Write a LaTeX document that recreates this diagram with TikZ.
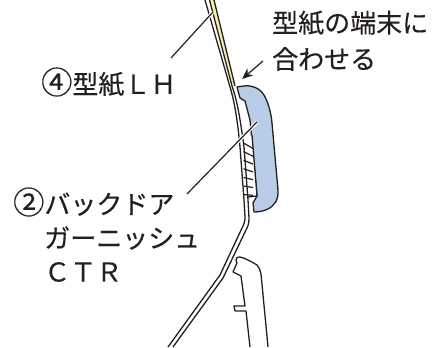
\documentclass[tikz,border=0pt]{standalone}
\usepackage{fontspec}
\setmainfont[FakeBold=0.35]{Noto Sans CJK JP}
\usetikzlibrary{arrows.meta, positioning, calc}
\definecolor{ptink}{HTML}{231F20}
\definecolor{ptblue}{HTML}{B9CDE9}
\definecolor{ptyellow}{HTML}{F6F0A8}
\newcommand{\bignum}[1]{\scalebox{1.2}{#1}}

\begin{document}
\begin{tikzpicture}[
  x=1pt, y=-1pt,
  every node/.style={font=\fontsize{26}{30}\selectfont, text=ptink, anchor=west, inner sep=0pt},
  outline/.style={draw=ptink, line width=1.3pt, line join=round},
  leader/.style={draw=ptink, line width=1.2pt},
  halo/.style={draw=white, line width=3.5pt},
  hatchline/.style={draw=ptink, line width=1.2pt},
]
\useasboundingbox (0,0) rectangle (443,347);

% Template strip
\fill[ptyellow] (209.5,0) -- (214,0) -- (235,86) -- (232,86) -- cycle;
\draw[outline] (214,0) -- (235,86);

% Garnish
\draw[outline, fill=ptblue] (237,87) .. controls (243,86) and (247,85.5) .. (250,86) .. controls (256,87) and (261,90) .. (264,95)
  .. controls (268,102) and (271,112) .. (272,123) -- (278,190) .. controls (278.5,200) and (275,205) .. (268,209)
  .. controls (264,211) and (259,212) .. (254,212) -- (253,203) -- (257,196) -- (250,120) -- (245,101) -- (240,98) -- cycle;

% Hatched part
\fill[white] (243,142) -- (252,135) -- (257,196) -- (248,197) -- cycle;
\draw[outline] (252,135) -- (257,196) -- (248,197);
\foreach \y in {0,...,6} {
  \draw[hatchline] (243.5,{143+\y*8.6}) -- (253,{148.5+\y*7.8});
}

% Body panel
\draw[outline] (205,0) -- (230,87) .. controls (235,103) and (238,125) .. (240,147) -- (244,200) -- (245,217)
  .. controls (245,222) and (244,224) .. (242,228) -- (220,275) -- (168,347);
\draw[outline] (209.5,0) -- (232,86) .. controls (238,103) and (241,125) .. (244,147) -- (248,200) -- (249,218)
  .. controls (249,224) and (248,226) .. (246,230) -- (223,278) -- (173,347);

% Lower part
\draw[outline] (250,347) -- (246,311) -- (235,311) -- (234,306) -- (245,306) -- (241,276) -- (233,272) -- (237,263)
  .. controls (235,259) and (236,257) .. (240,257) .. controls (245,258) and (252,262) .. (257,265)
  .. controls (259,267) and (260,270) .. (261,274) -- (268,347);

% Labels
\node (lblend) at (272,23) {型紙の端末に};
\node (lblmatch) at (272,59) {合わせる};
\node (lbltpl) at (41,82) {\bignum{④}型紙ＬＨ};
\node (lblback) at (13,202) {\bignum{②}バックドア};
\node (lblgarn) at (44,238) {ガーニッシュ};
\node (lblctr) at (44,272) {ＣＴＲ};

% Leaders
\coordinate (tplfoot) at (171,58);
\coordinate (tpltip) at (213,12);
\coordinate (garnfoot) at (187,194);
\coordinate (garntip) at (257,122);
\coordinate (arrowfoot) at (263,61);
\coordinate (arrowtip) at (242,79);
\draw[halo] ($(tplfoot)!0.8!(tpltip)$) -- (tpltip);
\draw[leader] (tplfoot) -- (tpltip);
\draw[halo] ($(garnfoot)!0.6!(garntip)$) -- (garntip);
\draw[leader] (garnfoot) -- (garntip);
\draw[leader, -{Stealth[length=11pt, width=9pt]}] (arrowfoot) -- (arrowtip);

\end{tikzpicture}
\end{document}
